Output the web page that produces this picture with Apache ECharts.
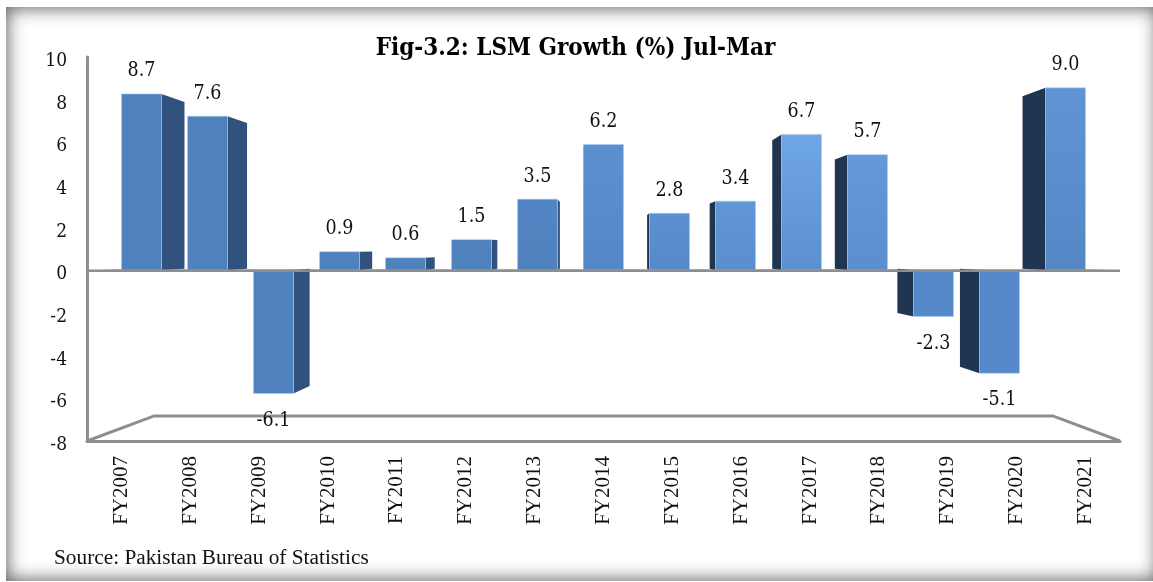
<!DOCTYPE html>
<html><head><meta charset="utf-8">
<script src="https://cdn.jsdelivr.net/npm/echarts@6/dist/echarts.min.js"></script>
<style>
html,body{margin:0;padding:0;background:#fff;overflow:hidden}
#frame{position:absolute;left:6px;top:7px;width:1152px;height:574px;box-shadow:inset 0 0 18px 1px #5a5a5a}
#main{position:absolute;left:0;top:0;width:1153px;height:582px}
</style></head><body>
<div id="frame"></div><div id="main"></div>
<script>
const categories=['FY2007','FY2008','FY2009','FY2010','FY2011','FY2012','FY2013','FY2014','FY2015','FY2016','FY2017','FY2018','FY2019','FY2020','FY2021'];
const growth=[8.7,7.6,-6.1,0.9,0.6,1.5,3.5,6.2,2.8,3.4,6.7,5.7,-2.3,-5.1,9.0];
const titleText='Fig-3.2: LSM Growth (%) Jul-Mar';
const sourceText='Source: Pakistan Bureau of Statistics';
const frontTop=['#4f81bd','#4f81bd','#4f81bd','#4f81bd','#4f81bd','#4f81bd','#5285c3','#5c90d0','#5c90d0','#6097d8','#6fa6e6','#6499da','#5589c9','#5589c9','#5f94d3'];
const frontBottom=['#4f81bd','#4f81bd','#4f81bd','#4f81bd','#4f81bd','#4f81bd','#4f81bd','#5387c6','#5589c9','#5a8ecd','#5b90cf','#5a8ecd','#5589c9','#5589c9','#5587c5'];

const VP=[603.5,248], BAR_DEPTH=0.052, FLOOR_DEPTH=0.13;
const FONT='"DejaVu Serif Condensed","DejaVu Serif",serif';
const TIMES='"Liberation Serif",serif';
const GREY='#8e8e8e';
const toward=(p,k)=>[p[0]+k*(VP[0]-p[0]),p[1]+k*(VP[1]-p[1])];

function renderBar(params,api){
  const i=api.value(0), v=api.value(1);
  const base=api.coord([i,0]), tip=api.coord([i,v]);
  const w=api.size([1,0])[0]*40/66, l=base[0]-w/2, r=base[0]+w/2;
  const leftOfVP=base[0]<VP[0];
  const edge=leftOfVP?r:l;
  const a=[edge,base[1]], b=[edge,tip[1]];
  return {type:'group',children:[
    {type:'polygon',shape:{points:[a,b,toward(b,BAR_DEPTH),toward(a,BAR_DEPTH)]},
     style:{fill:leftOfVP?'#31527c':'#1f3550'}},
    {type:'rect',shape:{x:l,y:Math.min(base[1],tip[1]),width:w,height:Math.abs(tip[1]-base[1])},
     style:{stroke:'rgba(170,205,245,0.55)',lineWidth:1,
       fill:{type:'linear',x:0,y:0,x2:0,y2:1,colorStops:[{offset:0,color:frontTop[i]},{offset:1,color:frontBottom[i]}]}}},
    {type:'text',z2:50,style:{text:v.toFixed(1),x:base[0],y:tip[1]+(v>=0?-22.5:27),align:'center',verticalAlign:'middle',font:'19.5px '+FONT,fill:'#111'}}
  ]};
}
function ends(api,y){
  const half=api.size([1,0])[0]/2;
  const a=api.coord([0,y]), d=api.coord([14,y]);
  return [[a[0]-half,a[1]],[d[0]+half,d[1]]];
}
function renderFloor(params,api){
  const [a,d]=ends(api,-8);
  return {type:'polyline',shape:{points:[a,toward(a,FLOOR_DEPTH),toward(d,FLOOR_DEPTH),d]},style:{fill:null,stroke:GREY,lineWidth:3}};
}
function renderZeroBack(params,api){
  const [a,d]=ends(api,0);
  return {type:'polygon',shape:{points:[a,toward(a,BAR_DEPTH),toward(d,BAR_DEPTH),d]},style:{fill:'#b4afa8'}};
}
function renderZeroFront(params,api){
  const [a,d]=ends(api,0);
  return {type:'line',shape:{x1:a[0],y1:a[1]+0.5,x2:d[0],y2:d[1]+0.5},style:{stroke:GREY,lineWidth:2.5}};
}
const chart=echarts.init(document.getElementById('main'),null,{renderer:'canvas'});
chart.setOption({
  animation:false,
  backgroundColor:'transparent',
  title:[{text:titleText,left:575.5,top:37,padding:0,textAlign:'center',textStyle:{fontFamily:FONT,fontSize:24,fontWeight:'bold',color:'#000'}},
         {text:sourceText,left:54,top:548,padding:0,textStyle:{fontFamily:TIMES,fontSize:21.3,fontWeight:'normal',color:'#111'}}],
  grid:[{left:87,right:33,top:57,height:384},{left:108.5,width:990,top:67.6,height:364.3}],
  xAxis:[
    {type:'category',gridIndex:0,data:categories,axisLine:{onZero:false,lineStyle:{color:GREY,width:3}},axisTick:{show:false},
     axisLabel:{rotate:90,margin:15,interval:0,fontFamily:TIMES,fontSize:21,color:'#111'}},
    {type:'category',gridIndex:1,data:categories,show:false}
  ],
  yAxis:[
    {type:'value',gridIndex:0,min:-8,max:10,interval:2,splitLine:{show:false},axisTick:{show:false},
     axisLine:{show:true,onZero:false,lineStyle:{color:GREY,width:3}},
     axisLabel:{margin:20,verticalAlign:'top',lineHeight:8,fontFamily:FONT,fontSize:19,color:'#111'}},
    {type:'value',gridIndex:1,min:-8,max:10,show:false,splitLine:{show:false}}
  ],
  series:[
    {type:'custom',name:'floor',xAxisIndex:0,yAxisIndex:0,data:[[0,-8]],z:1,silent:true,renderItem:renderFloor,clip:false},
    {type:'custom',name:'zeroBack',xAxisIndex:0,yAxisIndex:0,data:[[0,0]],z:2,silent:true,renderItem:renderZeroBack,clip:false},
    {type:'custom',name:'LSM Growth',xAxisIndex:1,yAxisIndex:1,z:3,clip:false,encode:{x:0,y:1},
     data:growth.map((v,i)=>[i,v]),renderItem:renderBar},
    {type:'custom',name:'zeroFront',xAxisIndex:0,yAxisIndex:0,data:[[0,0]],z:4,silent:true,renderItem:renderZeroFront,clip:false}
  ]
});
</script></body></html>
